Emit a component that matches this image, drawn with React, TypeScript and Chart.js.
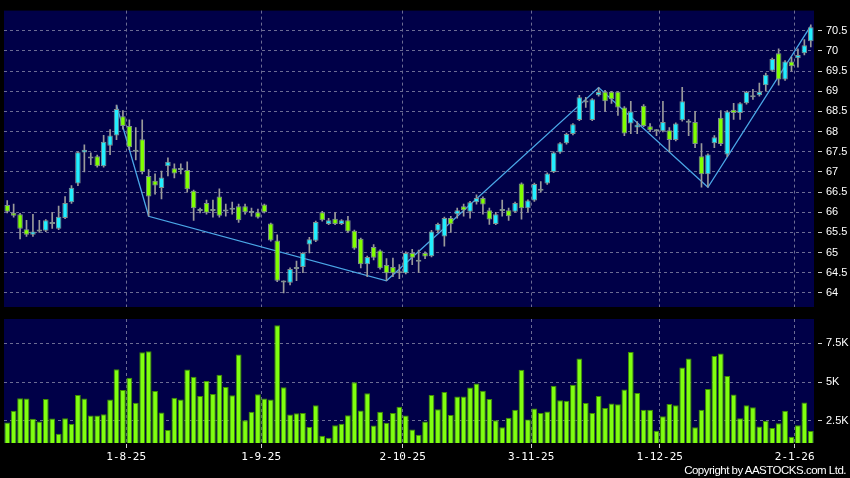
import React, { useEffect, useRef } from "react";
import { Chart, registerables } from "chart.js";

Chart.register(...registerables);

// ---- data (one entry per trading day, 7 Jul 2025 .. 6 Jan 2026) ----
const openP = [
  66.18, 65.99, 65.95, 65.58, 65.44, 65.52, 65.54, 65.76, 65.59, 65.86,
  66.25, 66.71, 67.48, 67.33, 67.39, 67.14, 67.65, 67.9, 68.38, 68.14,
  67.5, 67.81, 66.9, 66.78, 66.6, 67.14, 67.09, 67.05, 67.05, 66.53,
  66.03, 66.23, 66.03, 66.39, 66.02, 66.06, 66.15, 66.15, 65.98, 66.0,
  66.19, 65.72, 65.3, 64.26, 64.25, 64.59, 64.64, 65.2, 65.29, 66.0,
  65.71, 65.84, 65.71, 65.8, 65.54, 65.34, 64.71, 65.14, 65.05, 64.69,
  64.64, 64.49, 64.49, 64.99, 64.77, 64.99, 64.91, 65.54, 65.4, 65.86,
  65.95, 66.15, 66.01, 66.25, 66.35, 66.05, 65.71, 66.03, 66.05, 66.01,
  66.71, 66.1, 66.29, 66.53, 66.71, 67.0, 67.48, 67.71, 67.94, 68.29,
  68.72, 68.29, 68.9, 68.99, 68.99, 68.99, 68.6, 68.2, 68.1, 68.64,
  68.13, 68.01, 68.01, 68.03, 67.79, 68.28, 68.22, 68.24, 67.39, 66.94,
  67.71, 68.34, 67.43, 68.54, 68.46, 68.7, 68.85, 68.9, 69.15, 69.51,
  69.94, 69.29, 69.74, 69.82, 69.94, 70.24,
];
const highP = [
  66.29, 66.2, 65.97, 65.8, 65.95, 65.8, 65.82, 66.0, 66.15, 66.39,
  66.66, 67.5, 67.67, 67.47, 67.42, 67.91, 68.05, 68.66, 68.52, 68.29,
  68.1, 68.29, 67.06, 66.95, 67.02, 67.35, 67.2, 67.2, 67.25, 66.55,
  66.1, 66.3, 66.3, 66.58, 66.2, 66.25, 66.2, 66.2, 66.1, 66.08,
  66.2, 65.73, 65.44, 64.3, 64.62, 64.79, 65.0, 65.38, 65.78, 66.02,
  65.85, 66.0, 65.82, 65.9, 65.56, 65.36, 64.91, 65.2, 65.07, 64.85,
  64.86, 64.7, 65.02, 65.08, 65.06, 65.02, 65.55, 65.73, 65.88, 65.9,
  66.1, 66.2, 66.27, 66.43, 66.38, 66.1, 66.0, 66.3, 66.1, 66.25,
  66.73, 66.31, 66.72, 66.76, 66.98, 67.5, 67.73, 67.96, 68.2, 68.9,
  68.85, 68.82, 69.09, 69.02, 69.0, 69.0, 68.62, 68.75, 68.25, 68.67,
  68.2, 68.05, 68.75, 68.1, 68.22, 69.1, 68.3, 68.5, 67.7, 67.45,
  67.9, 68.52, 68.52, 68.7, 68.72, 69.0, 69.05, 69.2, 69.45, 69.82,
  70.05, 69.76, 69.85, 70.05, 70.28, 70.65,
];
const lowP = [
  65.98, 65.88, 65.34, 65.4, 65.4, 65.5, 65.52, 65.6, 65.57, 65.84,
  66.22, 66.66, 67.0, 67.18, 67.12, 67.12, 67.43, 67.8, 68.06, 67.55,
  67.3, 66.95, 65.9, 66.45, 66.33, 66.9, 66.85, 66.95, 66.5, 65.8,
  65.98, 65.95, 65.88, 65.88, 65.9, 65.95, 65.75, 65.95, 65.9, 65.85,
  65.98, 65.28, 64.28, 64.0, 64.2, 64.3, 64.5, 64.99, 65.27, 65.78,
  65.69, 65.69, 65.69, 65.5, 65.08, 64.62, 64.4, 64.82, 64.59, 64.3,
  64.4, 64.35, 64.47, 64.7, 64.5, 64.85, 64.89, 65.5, 65.16, 65.5,
  65.85, 65.9, 65.85, 66.2, 65.95, 65.7, 65.69, 65.9, 65.8, 65.99,
  65.83, 66.0, 66.27, 66.5, 66.69, 66.98, 67.46, 67.69, 67.92, 68.27,
  68.6, 68.27, 68.88, 68.5, 68.7, 68.4, 67.9, 67.95, 67.95, 68.12,
  68.0, 67.9, 67.99, 67.5, 67.77, 68.26, 67.9, 67.6, 66.62, 66.62,
  67.6, 67.65, 67.38, 68.3, 68.3, 68.68, 68.8, 68.88, 69.0, 69.49,
  69.15, 69.27, 69.5, 69.6, 69.9, 70.1,
];
const closeP = [
  66.01, 65.91, 65.59, 65.44, 65.52, 65.52, 65.8, 65.71, 65.89, 66.23,
  66.61, 67.49, 67.55, 67.33, 67.14, 67.75, 67.9, 68.56, 68.14, 67.61,
  67.5, 67.0, 66.39, 66.66, 66.86, 67.25, 66.96, 67.05, 66.57, 66.1,
  66.03, 65.99, 66.03, 65.91, 66.02, 66.09, 65.8, 66.0, 65.98, 65.87,
  66.0, 65.3, 64.3, 64.26, 64.59, 64.63, 64.99, 65.33, 65.76, 65.8,
  65.8, 65.71, 65.8, 65.52, 65.1, 64.71, 64.89, 64.87, 64.61, 64.49,
  64.49, 64.49, 64.99, 64.87, 64.77, 64.9, 65.52, 65.71, 65.86, 65.7,
  66.05, 66.05, 66.25, 66.35, 66.19, 65.82, 65.95, 66.03, 65.9, 66.23,
  66.1, 66.29, 66.7, 66.53, 66.96, 67.48, 67.71, 67.94, 68.18, 68.85,
  68.72, 68.8, 68.98, 68.75, 68.8, 68.6, 67.95, 68.5, 68.17, 68.14,
  68.03, 68.01, 68.24, 67.79, 68.2, 68.75, 68.22, 67.69, 66.94, 67.43,
  67.86, 67.69, 68.5, 68.46, 68.7, 68.98, 68.85, 68.99, 69.41, 69.8,
  69.29, 69.74, 69.62, 69.9, 70.14, 70.59,
];
// volume in thousands
const volumeK = [
  2.39, 3.14, 3.95, 3.93, 2.63, 2.46, 3.91, 2.65, 1.67, 2.67,
  2.29, 4.17, 3.93, 2.84, 2.84, 2.92, 3.87, 5.83, 4.49, 5.28,
  3.67, 6.92, 6.99, 4.42, 3.03, 1.9, 3.99, 3.87, 5.81, 5.34,
  4.1, 5.06, 4.23, 5.47, 4.68, 4.14, 6.77, 2.54, 3.08, 4.21,
  3.93, 3.87, 8.65, 4.66, 2.9, 2.99, 3.01, 2.1, 3.5, 1.54,
  1.41, 2.22, 2.31, 2.86, 4.98, 3.16, 4.27, 2.2, 3.08, 2.37,
  3.01, 3.4, 2.84, 1.94, 1.6, 2.46, 4.17, 3.25, 4.36, 2.88,
  4.06, 4.06, 4.64, 4.91, 4.44, 3.91, 2.54, 2.08, 2.69, 3.21,
  5.79, 2.58, 3.29, 3.01, 3.1, 4.76, 3.82, 3.79, 4.83, 6.52,
  3.65, 3.01, 4.1, 3.33, 3.62, 3.56, 4.51, 6.94, 4.29, 3.21,
  3.21, 1.86, 2.8, 3.59, 3.5, 5.94, 6.52, 2.08, 3.21, 4.55,
  6.67, 6.84, 5.38, 4.19, 2.67, 3.5, 3.38, 2.14, 2.5, 2.03,
  2.35, 3.14, 1.47, 2.22, 3.68, 1.85,
];
// zig-zag swing points (bar index, price)
const zigzagIdx = [17, 22, 59, 92, 109, 125];
const zigzagVal = [68.66, 65.9, 64.3, 69.09, 66.62, 70.62];
// first trading day of each month (bar index) and its label
const monthStartIdx = [19, 40, 62, 82, 102, 123];
const monthLabels = ["1-8-25", "1-9-25", "2-10-25", "3-11-25", "1-12-25", "2-1-26"];
const priceTicks = [64, 64.5, 65, 65.5, 66, 66.5, 67, 67.5, 68, 68.5, 69, 69.5, 70, 70.5];
const volumeTicks = [2.5, 5, 7.5];
const priceRange = [63.65, 71.0];
const volumeRange = [1.07, 9.06];

// ---- styles ----
const NAVY = "#000048";
const GRID = "#6c6c94";
const CYAN = "#22eeff";
const GREEN = "#80ff00";
const CANDLE_EDGE = "#7f8f8f";
const WICK = "#9a9a9a";
const ZIGZAG = "#4aa6e6";
const VOL_FILL = "#80ff10";
const VOL_EDGE = "#3f8f00";
const TEXT = "#ffffff";
const W = 850;
const H = 478;

const panelBg = {
  id: "panelBg",
  beforeDraw(chart: any) {
    const { ctx, chartArea } = chart;
    ctx.save();
    ctx.fillStyle = NAVY;
    ctx.fillRect(chartArea.left, chartArea.top, chartArea.right - chartArea.left, chartArea.bottom - chartArea.top);
    ctx.restore();
  },
};

const N = closeP.length;

function xScale(showLabels: boolean) {
  return {
    type: "linear",
    min: -0.5,
    max: N - 0.5,
    offset: false,
    afterBuildTicks: (s: any) => {
      s.ticks = monthStartIdx.map((i) => ({ value: i - 0.5 }));
    },
    afterFit: (s: any) => {
      s.height = showLabels ? 35 : 0;
    },
    ticks: {
      display: showLabels,
      autoSkip: false,
      maxRotation: 0,
      minRotation: 0,
      color: TEXT,
      padding: 2,
      font: { family: "'DejaVu Sans Mono'", size: 11 },
      callback: (_v: any, i: number) => monthLabels[i],
    },
    grid: {
      offset: false,
      color: GRID,
      drawTicks: showLabels,
      tickLength: 6,
      tickColor: "#d0d0d0",
      tickBorderDash: [0, 1, 4, 20],
    },
    border: { display: false, dash: [3, 3] },
  };
}

function yScale(range: number[], ticks: number[], fmt: (v: number) => string) {
  return {
    position: "right",
    min: range[0],
    max: range[1],
    afterBuildTicks: (s: any) => {
      s.ticks = ticks.map((v) => ({ value: v }));
    },
    afterFit: (s: any) => {
      s.width = 36;
    },
    ticks: {
      color: TEXT,
      padding: 4,
      font: { family: "'Liberation Sans'", size: 11 },
      callback: (v: any) => fmt(Number(v)),
    },
    grid: {
      offset: false,
      color: GRID,
      tickLength: 8,
      tickColor: "#d0d0d0",
      tickBorderDash: [0, 4, 4, 20],
    },
    border: { display: false, dash: [3, 3] },
  };
}

export default function App() {
  const priceRef = useRef<HTMLCanvasElement>(null);
  const volRef = useRef<HTMLCanvasElement>(null);

  useEffect(() => {
    document.body.style.margin = "0";
    document.body.style.background = "#000";

    const bodies = openP.map((o, i) => ({ x: i, y: [o, closeP[i]] }));
    const bodyColors = openP.map((o, i) =>
      closeP[i] > o ? CYAN : closeP[i] < o ? GREEN : CANDLE_EDGE
    );
    const wicks = lowP.map((l, i) => ({ x: i, y: [l, highP[i]] }));
    const zig = zigzagIdx.map((i, k) => ({ x: i, y: zigzagVal[k] }));

    const priceChart = new Chart(priceRef.current as HTMLCanvasElement, {
      type: "bar",
      data: {
        datasets: [
          {
            type: "line",
            data: zig,
            borderColor: ZIGZAG,
            borderWidth: 1.3,
            pointRadius: 0,
            tension: 0,
            order: 3,
          } as any,
          {
            type: "bar",
            data: wicks,
            backgroundColor: WICK,
            borderWidth: 0,
            barThickness: 1,
            grouped: false,
            order: 2,
          } as any,
          {
            type: "bar",
            data: bodies,
            backgroundColor: bodyColors,
            borderColor: CANDLE_EDGE,
            borderWidth: 1,
            borderSkipped: false,
            barPercentage: 0.86,
            categoryPercentage: 1,
            minBarLength: 2,
            grouped: false,
            order: 1,
          } as any,
        ],
      },
      options: {
        responsive: false,
        animation: false,
        events: [],
        layout: { padding: { left: 4, top: 5, right: 0, bottom: 171 } },
        plugins: { legend: { display: false }, tooltip: { enabled: false } },
        scales: {
          x: xScale(false) as any,
          y: yScale(priceRange, priceTicks, (v) => String(v)) as any,
        },
      },
      plugins: [panelBg],
    });

    const volChart = new Chart(volRef.current as HTMLCanvasElement, {
      type: "bar",
      data: {
        datasets: [
          {
            data: volumeK.map((v, i) => ({ x: i, y: v })),
            backgroundColor: VOL_FILL,
            borderColor: VOL_EDGE,
            borderWidth: 1,
            barPercentage: 0.9,
            categoryPercentage: 1,
          } as any,
        ],
      },
      options: {
        responsive: false,
        animation: false,
        events: [],
        layout: { padding: { left: 4, top: 319, right: 0, bottom: 0 } },
        plugins: { legend: { display: false }, tooltip: { enabled: false } },
        scales: {
          x: xScale(true) as any,
          y: yScale(volumeRange, volumeTicks, (v) => v + "K") as any,
        },
      },
      plugins: [panelBg],
    });

    return () => {
      priceChart.destroy();
      volChart.destroy();
    };
  }, []);

  const canvasStyle: React.CSSProperties = { position: "absolute", left: 0, top: 0, display: "block" };

  return (
    <div style={{ position: "fixed", left: 0, top: 0, width: W, height: H, background: "#000", overflow: "hidden" }}>
      <canvas ref={priceRef} width={W} height={H} style={canvasStyle} />
      <canvas ref={volRef} width={W} height={H} style={canvasStyle} />
      <div
        style={{
          position: "absolute",
          right: 4,
          top: 464,
          color: TEXT,
          fontFamily: "'Liberation Sans', Arial, sans-serif",
          fontSize: 11.5,
          lineHeight: "13px",
          letterSpacing: "-0.5px",
          whiteSpace: "nowrap",
        }}
      >
        Copyright by AASTOCKS.com Ltd.
      </div>
    </div>
  );
}
